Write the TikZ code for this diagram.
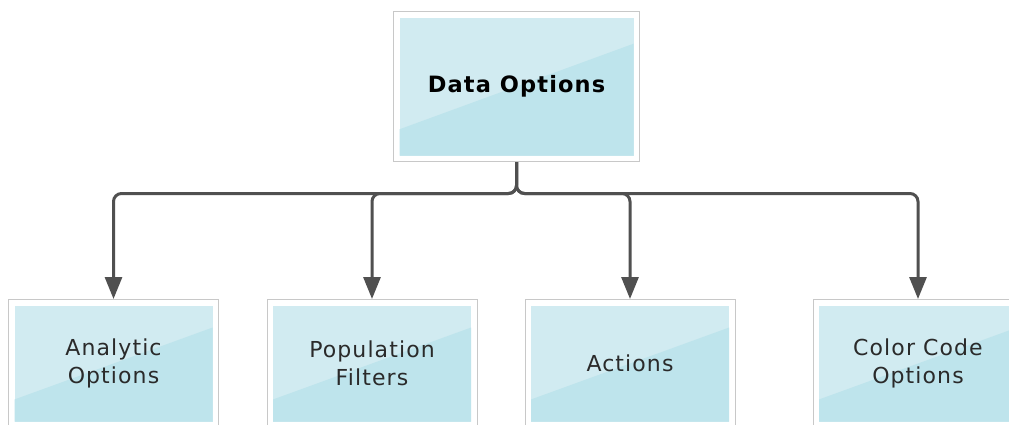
\documentclass[tikz,border=0pt]{standalone}
\usepackage{fontspec}
\setmainfont{DejaVu Sans}[LetterSpace=5]
\usetikzlibrary{arrows.meta,calc}
\definecolor{framegray}{HTML}{C8C8C8}
\definecolor{filllight}{HTML}{D1EBF1}
\definecolor{filldark}{HTML}{BEE4EC}
\definecolor{linecol}{HTML}{505050}
\definecolor{textcol}{HTML}{2A2A2A}
\tikzset{
  panel/.style={draw=framegray, line width=1pt, fill=white, inner sep=0pt,
    align=center, text=textcol, font=\fontsize{22}{28}\selectfont,
    path picture={
      \coordinate (pA) at ([shift={(6pt,6pt)}]path picture bounding box.south west);
      \coordinate (pC) at ([shift={(-6pt,-6pt)}]path picture bounding box.north east);
      \coordinate (pB) at (pA |- pC);
      \coordinate (pD) at (pC |- pA);
      \fill[filllight] (pA) rectangle (pC);
      \fill[filldark] (pA) -- ($(pA)!0.19!(pB)$) -- ($(pD)!0.81!(pC)$) -- (pD) -- cycle;
    }},
  toppanel/.style={panel, minimum width=246pt, minimum height=150pt,
    text=black, font=\fontsize{22.5}{28}\selectfont\bfseries},
  subpanel/.style={panel, minimum width=210pt, minimum height=128pt},
  conn/.style={draw=linecol, line width=3pt, rounded corners=8pt,
    -{Triangle[width=17pt,length=22pt]}}
}
\begin{document}
\begin{tikzpicture}[x=1pt,y=-1pt]
\useasboundingbox (0,0) rectangle (1009,424);
\clip (0,0) rectangle (1009,424);
\node[toppanel] (top) at (516.5,86.5) {Data Options};
\node[subpanel] (a1) at (113.5,363.5) {Analytic\\Options};
\node[subpanel] (a2) at (372,363.5) {Population\\Filters};
\node[subpanel] (a3) at (630,363.5) {Actions};
\node[subpanel] (a4) at (918,363.5) {Color Code\\Options};
\coordinate (hub) at ([yshift=-31.5pt]top.south);
\draw[conn] (top.south) -- (hub) -| (a1.north);
\draw[conn] (top.south) -- (hub) -| (a2.north);
\draw[conn] (top.south) -- (hub) -| (a3.north);
\draw[conn] (top.south) -- (hub) -| (a4.north);
\end{tikzpicture}
\end{document}
